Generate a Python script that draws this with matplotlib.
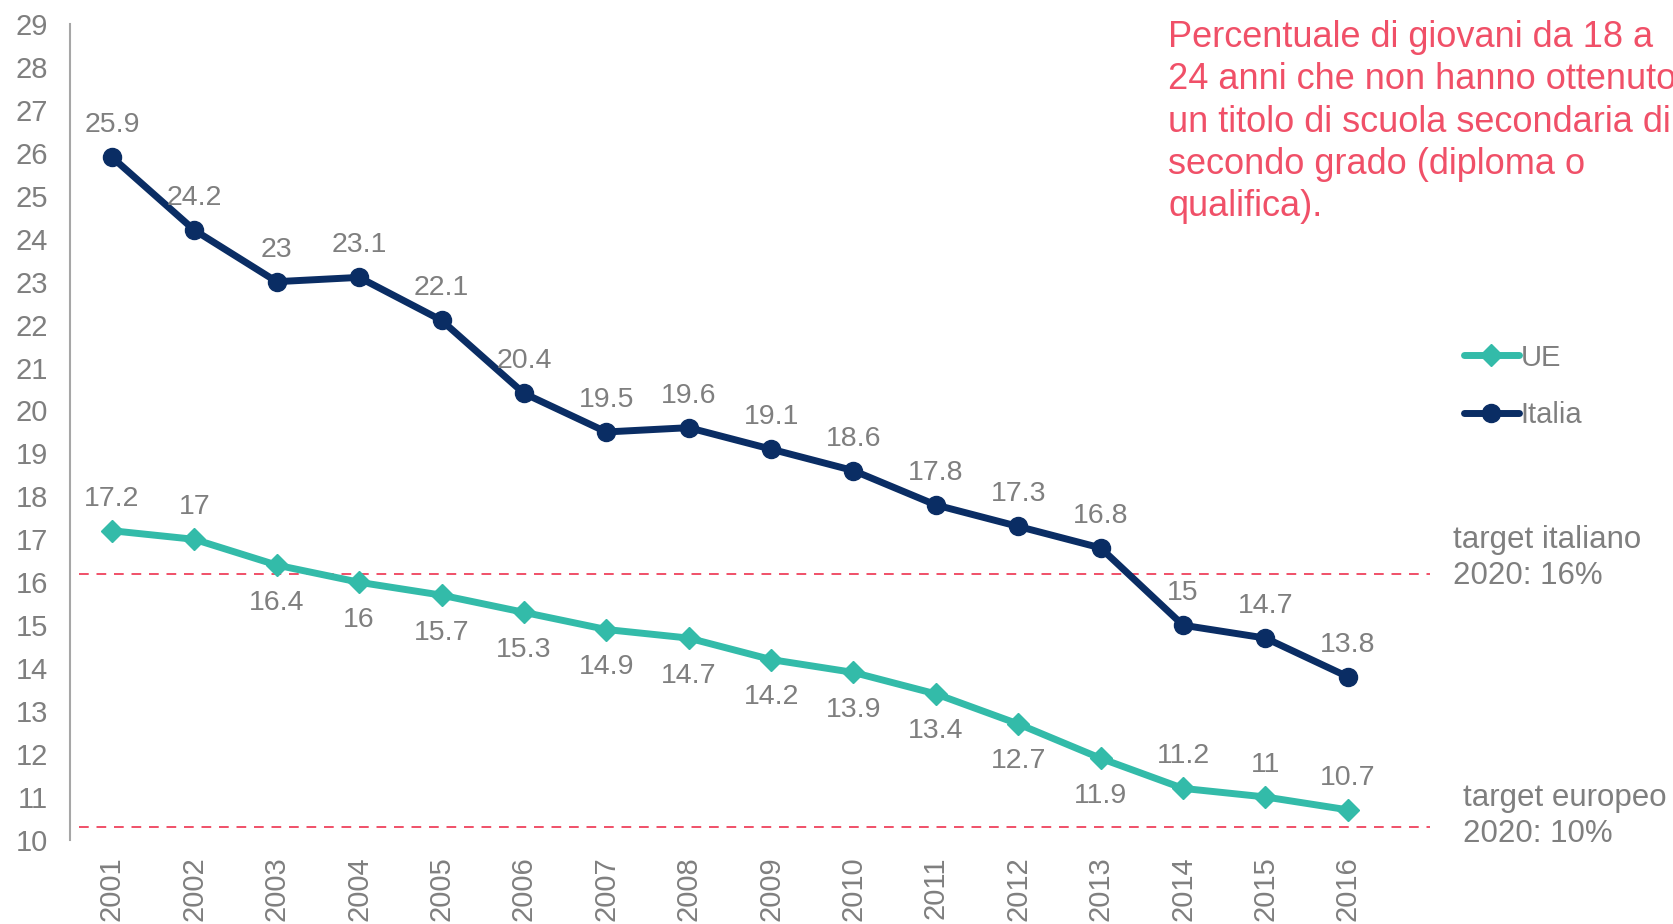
import numpy as np
import matplotlib.pyplot as plt

plt.rcParams['font.family'] = ['Liberation Sans', 'DejaVu Sans']

# data
years = [2001, 2002, 2003, 2004, 2005, 2006, 2007, 2008,
         2009, 2010, 2011, 2012, 2013, 2014, 2015, 2016]
italia = [25.9, 24.2, 23, 23.1, 22.1, 20.4, 19.5, 19.6,
          19.1, 18.6, 17.8, 17.3, 16.8, 15, 14.7, 13.8]
ue = [17.2, 17, 16.4, 16, 15.7, 15.3, 14.9, 14.7,
      14.2, 13.9, 13.4, 12.7, 11.9, 11.2, 11, 10.7]
# UE label above (1) or below (-1) its point
ue_side = [1, 1, -1, -1, -1, -1, -1, -1, -1, -1, -1, -1, -1, 1, 1, 1]
target_it = 16.2
target_eu = 10.3

navy = '#0a2d64'
teal = '#33bba9'
grey = '#7f7f7f'
red = '#f05068'

fig = plt.figure(figsize=(16.73, 9.24), dpi=100)
ax = fig.add_axes([0.0418, 0.091, 0.818, 0.883])

ax.plot(years, ue, color=teal, lw=5, marker='D', ms=11,
        solid_joinstyle='round', solid_capstyle='round', label='UE', zorder=3)
ax.plot(years, italia, color=navy, lw=5, marker='o', ms=13,
        solid_joinstyle='round', solid_capstyle='round', label='Italia', zorder=3)

for x, v in zip(years, italia):
    ax.annotate(f'{v:g}', (x, v), xytext=(0, 23), textcoords='offset points',
                ha='center', va='center', fontsize=20.5, color=grey)
for x, v, s in zip(years, ue, ue_side):
    off = 23 if s > 0 else -27
    ax.annotate(f'{v:g}', (x, v), xytext=(0, off), textcoords='offset points',
                ha='center', va='center', fontsize=20.5, color=grey)

ax.plot([2000.6, 2017.0], [target_it, target_it], color=red, lw=1.4,
        ls=(0, (5, 4)), zorder=2)
ax.plot([2000.6, 2017.0], [target_eu, target_eu], color=red, lw=1.4,
        ls=(0, (5, 4)), zorder=2)

ax.set_xlim(2000.49, 2017.1)
ax.set_ylim(10, 29)
ax.set_yticks(np.arange(10, 30, 1))
ax.set_xticks(years)
ax.set_xticklabels([str(y) for y in years], rotation=90)
ax.tick_params(axis='both', length=0, labelsize=21, labelcolor=grey)
ax.tick_params(axis='y', pad=16)
ax.tick_params(axis='x', pad=12)

for side in ['top', 'right', 'bottom']:
    ax.spines[side].set_visible(False)
ax.spines['left'].set_color('#a6a6a6')
ax.spines['left'].set_linewidth(1.5)

fig.text(1168 / 1673, 1 - 20 / 924,
         'Percentuale di giovani da 18 a\n24 anni che non hanno ottenuto\n'
         'un titolo di scuola secondaria di\nsecondo grado (diploma o\nqualifica).',
         ha='left', va='top', fontsize=26, color=red, linespacing=1.27)

fig.text(1453 / 1673, 1 - 558 / 924, 'target italiano\n2020: 16%',
         ha='left', va='center', fontsize=22.5, color=grey, linespacing=1.27)
fig.text(1463 / 1673, 1 - 816 / 924, 'target europeo\n2020: 10%',
         ha='left', va='center', fontsize=22.5, color=grey, linespacing=1.27)

fig.legend(loc='upper left', bbox_to_anchor=(1452 / 1673, 1 - 332 / 924),
           frameon=False, fontsize=21, labelcolor=grey, handlelength=1.9,
           handletextpad=0.05, labelspacing=1.0, borderaxespad=0)

fig.savefig('out.png', dpi=100)
